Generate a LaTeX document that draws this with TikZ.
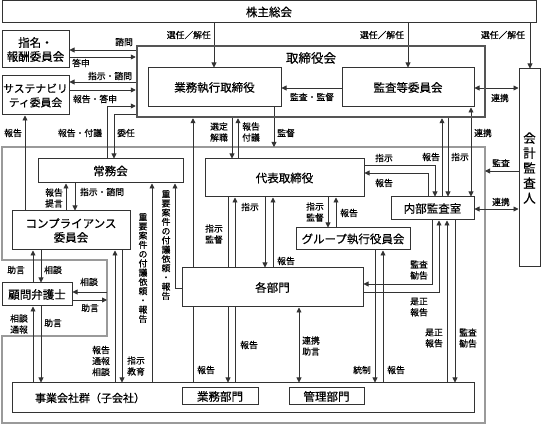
\documentclass[tikz,border=0pt]{standalone}
\usepackage{fontspec}
\newfontfamily\jp[FakeBold=0.5]{Noto Sans CJK JP}
\usetikzlibrary{arrows.meta,backgrounds}
\definecolor{linec}{HTML}{333333}
\definecolor{framec}{HTML}{9A9A9A}
\definecolor{toric}{HTML}{555555}
\begin{document}
\begin{tikzpicture}[x=1pt,y=-1pt,
 box/.style={draw=linec, fill=white, line width=1pt, inner sep=0pt, font=\jp\fontsize{11.5}{14}\selectfont, align=center},
 lab/.style={inner sep=0pt, font=\jp\fontsize{8.8}{11}\selectfont, align=center},
 vlab/.style={inner sep=0pt, font=\jp\fontsize{8.8}{9.25}\selectfont, align=center},
 ln/.style={draw=linec, line width=0.85pt},
 arr/.style={ln, -{Triangle[length=5pt,width=5pt]}},
 darr/.style={ln, {Triangle[length=5pt,width=5pt]}-{Triangle[length=5pt,width=5pt]}},
]
\useasboundingbox (0,0) rectangle (542,425);
\foreach \x in {214,408,530,25,107,114,193,232,238,274,442,448,471,435,428,66,75,33,41,115,122,152,175,228,235,265,273,328,336,432,439,447,455,375,383,299}
  \coordinate (v\x) at (\x,0);
\foreach \y in {88,50,57,82,90,106,114,171,209,165,173,292,300,288,284}
  \coordinate (h\y) at (0,\y);
\coordinate (ftop) at (0,147);
\coordinate (fright) at (485,0);
\coordinate (nright) at (107,0);

% boxes
\node[box, minimum width=534pt, minimum height=22pt] (kabu) at (269,12) {株主総会};
\node[draw=toric, line width=2.5pt, fill=none, inner sep=0pt, minimum width=348pt, minimum height=71pt] (tori) at (311,81.5) {};
\node[inner sep=0pt, font=\jp\fontsize{12.5}{14}\selectfont] (toritit) at (311,58) {取締役会};
\node[box, minimum width=133pt, minimum height=39pt] (gyomu) at (214.5,87.5) {業務執行取締役};
\node[box, minimum width=132pt, minimum height=39pt] (kansa) at (408,87.5) {監査等委員会};
\node[box, minimum width=21pt, minimum height=198pt, font=\jp\fontsize{12.5}{15}\selectfont] (kaikei) at (529.5,168) {会\\計\\監\\査\\人};
\node[box, minimum width=67pt, minimum height=37pt] (shimei) at (35.5,49.5) {指名・\\報酬委員会};
\node[box, minimum width=67pt, minimum height=39pt, font=\jp\fontsize{10.8}{14}\selectfont] (sustain) at (35.5,95.5) {サステナビリ\\ティ委員会};
\node[box, minimum width=145pt, minimum height=24pt] (jomu) at (110.5,171) {常務会};
\node[box, minimum width=118pt, minimum height=39pt] (comp) at (71,230.5) {コンプライアンス\\委員会};
\node[box, minimum width=70pt, minimum height=23pt] (lawyer) at (37,294.5) {顧問弁護士};
\node[box, minimum width=159pt, minimum height=38pt] (daihyo) at (284.5,178) {代表取締役};
\node[box, minimum width=114pt, minimum height=22pt] (group) at (353,239) {グループ執行役員会};
\node[box, minimum width=83pt, minimum height=23pt] (naibu) at (432.5,208.5) {内部監査室};
\node[box, minimum width=181pt, minimum height=39pt] (kakubu) at (272.5,287.5) {各部門};
\node[box, minimum width=462pt, minimum height=30pt] (jigyo) at (243,398) {};
\node[inner sep=0pt, font=\jp\fontsize{11}{14}\selectfont] (jigyot) at (90,398) {事業会社群（子会社）};
\node[box, minimum width=76pt, minimum height=17pt] (gyomubu) at (220,396.5) {業務部門};
\node[box, minimum width=75pt, minimum height=17pt] (kanri) at (326.5,396.5) {管理部門};

\begin{scope}[on background layer]
\draw[framec, line width=1.4pt] (485,147) -- (2,147) -- (2,260) -- (107,260) -- (107,336) -- (2,336) -- (2,423) -- (485,423) -- cycle;
\draw[arr] (kabu.south -| v214) -- (gyomu.north -| v214);
\draw[arr] (kabu.south -| v408) -- (kansa.north -| v408);
\draw[arr] (kabu.south -| v530) -- (kaikei.north -| v530);
\draw[arr] (kansa.west |- h88) -- (gyomu.east |- h88);
\draw[darr] (kansa.east |- h88) -- (kaikei.west |- h88);
\draw[arr] (tori.west |- h50) -- (shimei.east |- h50);
\draw[arr] (shimei.east |- h57) -- (tori.west |- h57);
\draw[arr] (tori.west |- h82) -- (sustain.east |- h82);
\draw[arr] (sustain.east |- h90) -- (tori.west |- h90);
\draw[arr] (jomu.north -| v107) -- (v107 |- h106) -- (tori.west |- h106);
\draw[arr] (tori.west |- h114) -- (v114 |- h114) -- (jomu.north -| v114);
\draw[arr] (comp.north -| v25) -- (sustain.south -| v25);
\draw[arr] (jigyo.north -| v193) -- (tori.south -| v193);
\draw[arr] (tori.south -| v232) -- (daihyo.north -| v232);
\draw[arr] (daihyo.north -| v238) -- (tori.south -| v238);
\draw[arr] (gyomu.south -| v274) -- (ftop -| v274);
\draw[arr] (kaikei.west |- h171) -- (fright |- h171);
\draw[darr] (naibu.east |- h209) -- (kaikei.west |- h209);
\draw[arr] (naibu.north -| v442) -- (tori.south -| v442);
\draw[arr] (tori.south -| v448) -- (naibu.north -| v448);
\draw[darr] (kansa.south -| v471) -- (naibu.north -| v471);
\draw[arr] (daihyo.east |- h165) -- (v435 |- h165) -- (naibu.north -| v435);
\draw[arr] (naibu.north -| v428) -- (v428 |- h173) -- (daihyo.east |- h173);
\draw[arr] (comp.north -| v66) -- (jomu.south -| v66);
\draw[arr] (jomu.south -| v75) -- (comp.north -| v75);
\draw[arr] (lawyer.north -| v33) -- (comp.south -| v33);
\draw[arr] (comp.south -| v41) -- (lawyer.north -| v41);
\draw[arr] (nright |- h292) -- (lawyer.east |- h292);
\draw[arr] (lawyer.east |- h300) -- (nright |- h300);
\draw[arr] (jigyo.north -| v33) -- (lawyer.south -| v33);
\draw[arr] (lawyer.south -| v41) -- (jigyo.north -| v41);
\draw[arr] (jigyo.north -| v115) -- (comp.south -| v115);
\draw[arr] (comp.south -| v122) -- (jigyo.north -| v122);
\draw[arr] (jigyo.north -| v152) -- (jomu.south -| v152);
\draw[arr] (kakubu.west |- h288) -- (v175 |- h288) -- (jomu.south -| v175);
\draw[arr] (daihyo.south -| v228) -- (jigyo.north -| v228);
\draw[arr] (jigyo.north -| v235) -- (daihyo.south -| v235);
\draw[arr] (daihyo.south -| v265) -- (kakubu.north -| v265);
\draw[arr] (kakubu.north -| v273) -- (daihyo.south -| v273);
\draw[arr] (daihyo.south -| v328) -- (group.north -| v328);
\draw[arr] (group.north -| v336) -- (daihyo.south -| v336);
\draw[arr] (naibu.south -| v432) -- (v432 |- h284) -- (kakubu.east |- h284);
\draw[arr] (kakubu.east |- h292) -- (v439 |- h292) -- (naibu.south -| v439);
\draw[arr] (jigyo.north -| v447) -- (naibu.south -| v447);
\draw[arr] (naibu.south -| v455) -- (jigyo.north -| v455);
\draw[arr] (group.south -| v375) -- (jigyo.north -| v375);
\draw[arr] (jigyo.north -| v383) -- (group.south -| v383);
\draw[darr] (kakubu.south -| v299) -- (jigyo.north -| v299);
\end{scope}

% labels
\node[lab, anchor=east] (l1) at (211,35) {選任／解任};
\node[lab] (l2) at (382,35) {選任／解任};
\node[lab] (l3) at (503,35) {選任／解任};
\node[lab] (l4) at (312,97) {監査・監督};
\node[lab] (l5) at (500,98) {連携};
\node[lab] (l6) at (124,42) {諮問};
\node[lab] (l7) at (81,63) {答申};
\node[lab] (l8) at (110,76) {指示・諮問};
\node[lab] (l9) at (95,99) {報告・答申};
\node[lab] (l10) at (80,133) {報告・付議};
\node[lab] (l11) at (126,133) {委任};
\node[lab] (l12) at (13,133) {報告};
\node[lab] (l13) at (219,132) {選定\\解職};
\node[lab] (l14) at (251,132) {報告\\付議};
\node[lab] (l15) at (286,133) {監督};
\node[lab] (l16) at (501,163) {監査};
\node[lab] (l17) at (501,202) {連携};
\node[lab] (l18) at (431,157) {報告};
\node[lab] (l19) at (460,157) {指示};
\node[lab] (l20) at (483,133) {連携};
\node[lab] (l21) at (384,158) {指示};
\node[lab] (l22) at (384,183) {報告};
\node[lab] (l23) at (54,198) {報告\\提言};
\node[lab] (l24) at (102,192) {指示・諮問};
\node[lab] (l25) at (16,270) {助言};
\node[lab] (l26) at (53,270) {相談};
\node[lab] (l27) at (89,282) {相談};
\node[lab] (l28) at (90,308) {助言};
\node[lab] (l29) at (19,324) {相談\\通報};
\node[lab] (l30) at (53,323) {助言};
\node[lab] (l31) at (101,361) {報告\\通報\\相談};
\node[lab] (l32) at (136,366) {指示\\教育};
\node[vlab] (l33) at (143,268) {重\\要\\案\\件\\の\\付\\議\\依\\頼\\・\\報\\告};
\node[vlab] (l34) at (166,245) {重\\要\\案\\件\\の\\付\\議\\依\\頼\\・\\報\\告};
\node[lab] (l35) at (214,234) {指示\\監督};
\node[lab] (l36) at (249,345) {報告};
\node[lab] (l37) at (250,207) {指示};
\node[lab] (l38) at (286,261) {報告};
\node[lab] (l39) at (315,212) {指示\\監督};
\node[lab] (l40) at (349,213) {報告};
\node[lab] (l41) at (419,270) {監査\\勧告};
\node[lab] (l42) at (419,307) {是正\\報告};
\node[lab] (l43) at (434,338) {是正\\報告};
\node[lab] (l44) at (468,338) {監査\\勧告};
\node[lab] (l45) at (362,370) {統制};
\node[lab] (l46) at (396,370) {報告};
\node[lab] (l47) at (311,346) {連携\\助言};
\node[lab] (l48) at (206,370) {報告};
\end{tikzpicture}
\end{document}
